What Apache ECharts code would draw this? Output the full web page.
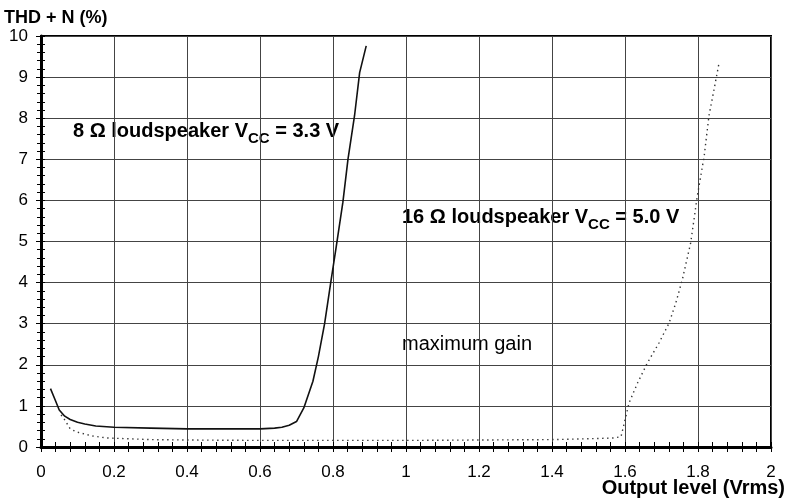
<!DOCTYPE html>
<html>
<head>
<meta charset="utf-8">
<script src="https://cdn.jsdelivr.net/npm/echarts@6/dist/echarts.min.js"></script>
<style>html,body{margin:0;padding:0;background:#fff}#c{width:788px;height:498px}</style>
</head>
<body>
<div id="c"></div>
<script>
// ---- data ----
const xTicks = [0, 0.2, 0.4, 0.6, 0.8, 1, 1.2, 1.4, 1.6, 1.8, 2];
const yTicks = [0, 1, 2, 3, 4, 5, 6, 7, 8, 9, 10];
const spk8X = [0.026,0.04,0.05,0.065,0.08,0.1,0.12,0.15,0.2,0.3,0.4,0.5,0.6,0.64,0.66,0.68,0.7,0.72,0.745,0.76,0.777,0.795,0.809,0.827,0.841,0.859,0.873,0.891];
const spk8Y = [1.42,1.12,0.9,0.75,0.67,0.6,0.56,0.51,0.48,0.46,0.44,0.44,0.44,0.46,0.48,0.53,0.62,0.95,1.6,2.2,3.0,4.07,4.88,5.95,7.0,8.06,9.11,9.76];
const spk16X = [0.055,0.065,0.08,0.1,0.14,0.18,0.24,0.3,0.4,0.6,0.8,1.0,1.2,1.4,1.5,1.57,1.589,1.598,1.611,1.634,1.661,1.693,1.721,1.739,1.757,1.78,1.798,1.817,1.83,1.844,1.858];
const spk16Y = [0.78,0.66,0.44,0.36,0.27,0.22,0.2,0.18,0.17,0.16,0.16,0.16,0.17,0.18,0.2,0.22,0.25,0.58,1.07,1.55,2.04,2.53,3.02,3.5,4.07,4.97,6.1,7.08,8.06,8.7,9.36];
const yTitle = 'THD + N (%)';
const xTitle = 'Output level (Vrms)';

const FONT = "'Liberation Sans', Arial, sans-serif";
const pairs = (xs, ys) => xs.map((x, i) => [x, ys[i]]);

const chart = echarts.init(document.getElementById('c'), null, {renderer: 'canvas'});

const xBase = {
  type: 'value', min: xTicks[0], max: xTicks[xTicks.length - 1], interval: 0.2, position: 'bottom'
};
const yBase = {
  type: 'value', min: yTicks[0], max: yTicks[yTicks.length - 1], interval: 1, position: 'left'
};

chart.setOption({
  animation: false,
  backgroundColor: '#ffffff',
  grid: {left: 41, right: 17, top: 36, bottom: 51, show: true, borderColor: '#000', borderWidth: 2, backgroundColor: 'transparent'},
  xAxis: [
    Object.assign({}, xBase, {
      axisLine: {show: true, onZero: false, lineStyle: {color: '#000', width: 3}},
      axisTick: {show: true, inside: false, length: 5, lineStyle: {color: '#000', width: 1}},
      minorTick: {show: true, splitNumber: 5, length: 5, lineStyle: {color: '#000', width: 1}},
      splitLine: {show: true, lineStyle: {color: '#444', width: 1}},
      axisLabel: {color: '#000', fontSize: 17, fontFamily: FONT, margin: 17,
        formatter: v => String(+v.toFixed(1))}
    }),
    Object.assign({}, xBase, {
      axisLine: {show: false, onZero: false},
      axisTick: {show: true, inside: true, length: 5, lineStyle: {color: '#000', width: 1}},
      minorTick: {show: true, splitNumber: 5, length: 5, lineStyle: {color: '#000', width: 1}},
      splitLine: {show: false},
      axisLabel: {show: false}
    })
  ],
  yAxis: [
    Object.assign({}, yBase, {
      axisLine: {show: true, onZero: false, lineStyle: {color: '#000', width: 3}},
      axisTick: {show: true, inside: false, length: 5, lineStyle: {color: '#000', width: 1}},
      minorTick: {show: true, splitNumber: 5, length: 4, lineStyle: {color: '#000', width: 1}},
      splitLine: {show: true, lineStyle: {color: '#444', width: 1}},
      axisLabel: {color: '#000', fontSize: 17, fontFamily: FONT, margin: 13}
    }),
    Object.assign({}, yBase, {
      axisLine: {show: false, onZero: false},
      axisTick: {show: true, inside: true, length: 4, lineStyle: {color: '#000', width: 1}},
      minorTick: {show: true, splitNumber: 5, length: 4, lineStyle: {color: '#000', width: 1}},
      splitLine: {show: false},
      axisLabel: {show: false}
    })
  ],
  series: [
    {
      type: 'line', name: '8 ohm', xAxisIndex: 0, yAxisIndex: 0,
      data: pairs(spk8X, spk8Y), showSymbol: false, symbol: 'none',
      lineStyle: {color: '#111', width: 1.6}
    },
    {
      type: 'line', name: '16 ohm', xAxisIndex: 0, yAxisIndex: 0,
      data: pairs(spk16X, spk16Y), showSymbol: false, symbol: 'none',
      lineStyle: {color: '#333', width: 1.4, type: [1.4, 3.6]}
    }
  ],
  graphic: [
    {type: 'text', left: 4, top: 9, style: {text: yTitle, fill: '#000', font: "bold 18px " + FONT}},
    {type: 'text', right: 3, top: 478, style: {text: xTitle, fill: '#000', font: "bold 20px " + FONT}},
    {type: 'text', left: 73, top: 121, style: {
      text: '{n|8 Ω loudspeaker V}{s|CC}{n| = 3.3 V}',
      rich: {
        n: {font: "bold 20px " + FONT, fill: '#000', lineHeight: 30, verticalAlign: 'middle'},
        s: {font: "bold 15px " + FONT, fill: '#000', lineHeight: 30, verticalAlign: 'bottom'}
      }
    }},
    {type: 'text', left: 402, top: 207, style: {
      text: '{n|16 Ω loudspeaker V}{s|CC}{n| = 5.0 V}',
      rich: {
        n: {font: "bold 20px " + FONT, fill: '#000', lineHeight: 30, verticalAlign: 'middle'},
        s: {font: "bold 15px " + FONT, fill: '#000', lineHeight: 30, verticalAlign: 'bottom'}
      }
    }},
    {type: 'text', left: 402, top: 334, style: {text: 'maximum gain', fill: '#000', font: "20px " + FONT}}
  ]
});
</script>
</body>
</html>
